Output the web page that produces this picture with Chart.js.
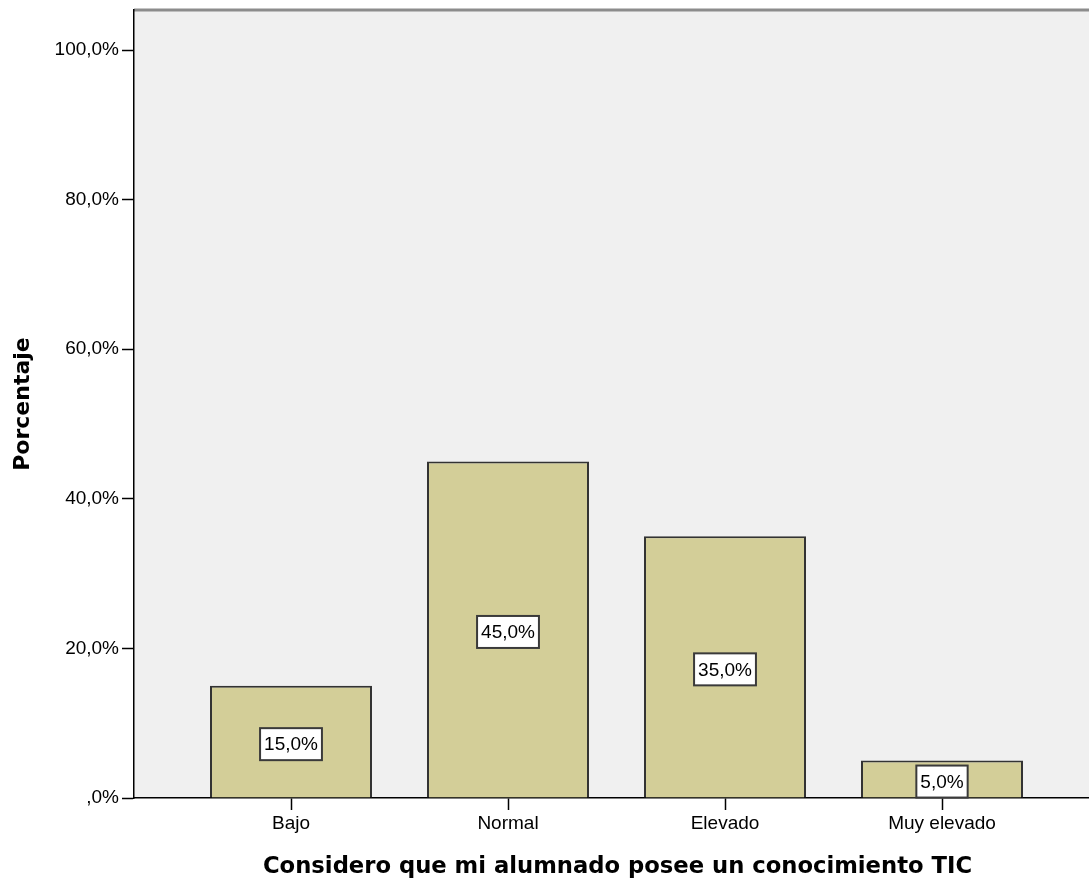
<!DOCTYPE html>
<html>
<head>
<meta charset="utf-8">
<script src="https://cdn.jsdelivr.net/npm/chart.js@4.4.0/dist/chart.umd.min.js"></script>
<style>
  html, body { margin: 0; padding: 0; background: #fff; }
  #clip { width: 1089px; height: 881px; overflow: hidden; }
  #wrap { width: 1101px; height: 881px; }
</style>
</head>
<body>
<div id="clip"><div id="wrap"><canvas id="chart"></canvas></div></div>
<script>
/* Categories and percentages. */
const categories = ["Bajo", "Normal", "Elevado", "Muy elevado"]
const percentages = [15.0, 45.0, 35.0, 5.0]
const yTicks = [0, 20, 40, 60, 80, 100]

/* SPSS style percent: ",0%", "15,0%", "100,0%". */
const formatPct = v => {
  let s = v.toFixed(1).replace(".", ",")
  if (s.startsWith("0,")) s = s.slice(1)
  return s + "%"
}

const tickFont = {family: "'Liberation Sans', Arial, sans-serif", size: 19}
const xTitleFont = {family: "'DejaVu Sans', Verdana, sans-serif", size: 22.7, weight: "bold"}
const yTitleFont = {family: "'DejaVu Sans', Verdana, sans-serif", size: 22, weight: "bold"}

/* Grey plot background and the grey frame line on top. */
const plotBackground = {
  id: "plotBackground",
  beforeDraw(chart) {
    const {ctx, chartArea: a} = chart
    ctx.save()
    ctx.fillStyle = "#f0f0f0"
    ctx.fillRect(a.left, a.top, a.right - a.left, a.bottom - a.top)
    ctx.strokeStyle = "#8c8c8c"
    ctx.lineWidth = 3
    ctx.beginPath()
    ctx.moveTo(a.left, a.top)
    ctx.lineTo(a.right, a.top)
    ctx.stroke()
    ctx.restore()
  }
}

/* White boxed value labels in the middle of each bar. */
const valueLabels = {
  id: "valueLabels",
  afterDatasetsDraw(chart) {
    const {ctx} = chart
    const meta = chart.getDatasetMeta(0)
    ctx.save()
    ctx.font = "19px 'Liberation Sans', Arial, sans-serif"
    ctx.textAlign = "center"
    ctx.textBaseline = "middle"
    meta.data.forEach((bar, i) => {
      const text = formatPct(percentages[i])
      const w = ctx.measureText(text).width + 8
      const h = 32
      const cy = (bar.y + bar.base) / 2 + 2.5
      ctx.fillStyle = "#fff"
      ctx.fillRect(bar.x - w / 2, cy - h / 2, w, h)
      ctx.strokeStyle = "#3a3a3a"
      ctx.lineWidth = 2
      ctx.strokeRect(bar.x - w / 2, cy - h / 2, w, h)
      ctx.fillStyle = "#000"
      ctx.fillText(text, bar.x, cy + 1)
    })
    ctx.restore()
  }
}

const ctx = document.getElementById("chart").getContext("2d")
const chart = new Chart(ctx, {
  type: "bar",
  data: {
    datasets: [{
      data: categories.map((c, i) => ({x: i, y: percentages[i]})),
      backgroundColor: "#d3ce98",
      borderColor: "#333",
      borderWidth: 2,
      barPercentage: 0.7465,
      categoryPercentage: 1
    }]
  },
  options: {
    responsive: true,
    maintainAspectRatio: false,
    animation: false,
    layout: {padding: {top: 10, left: 0, right: 0, bottom: 0}},
    plugins: {
      legend: {display: false},
      tooltip: {enabled: false}
    },
    scales: {
      x: {
        type: "linear",
        offset: false,
        min: -0.7235,
        max: 3.7327,
        afterBuildTicks: scale => { scale.ticks = categories.map((c, i) => ({value: i})) },
        afterFit: scale => { scale.height = 83 },
        grid: {offset: false, drawOnChartArea: false, drawTicks: true, tickLength: 12, tickColor: "#000", tickWidth: 1.5},
        border: {display: true, color: "#000", width: 1.5},
        ticks: {
          callback: v => categories[v],
          autoSkip: false,
          maxRotation: 0,
          color: "#000",
          font: tickFont,
          padding: 2
        },
        title: {
          display: true,
          text: "Considero que mi alumnado posee un conocimiento TIC",
          color: "#000",
          font: xTitleFont,
          padding: {top: 4, bottom: 0}
        }
      },
      y: {
        min: 0,
        max: 105.35,
        afterBuildTicks: scale => { scale.ticks = yTicks.map(v => ({value: v})) },
        afterFit: scale => {
          scale.width = 134
          scale.paddingTop = 0
          scale.paddingBottom = 0
        },
        grid: {drawOnChartArea: false, drawTicks: true, tickLength: 12, tickColor: "#000", tickWidth: 1.5},
        border: {display: true, color: "#000", width: 1.5},
        ticks: {
          callback: v => formatPct(v),
          color: "#000",
          font: tickFont,
          padding: 3
        },
        title: {
          display: true,
          text: "Porcentaje",
          color: "#000",
          font: yTitleFont,
          padding: {top: 10, bottom: 0}
        }
      }
    }
  },
  plugins: [plotBackground, valueLabels]
})
</script>
</body>
</html>
